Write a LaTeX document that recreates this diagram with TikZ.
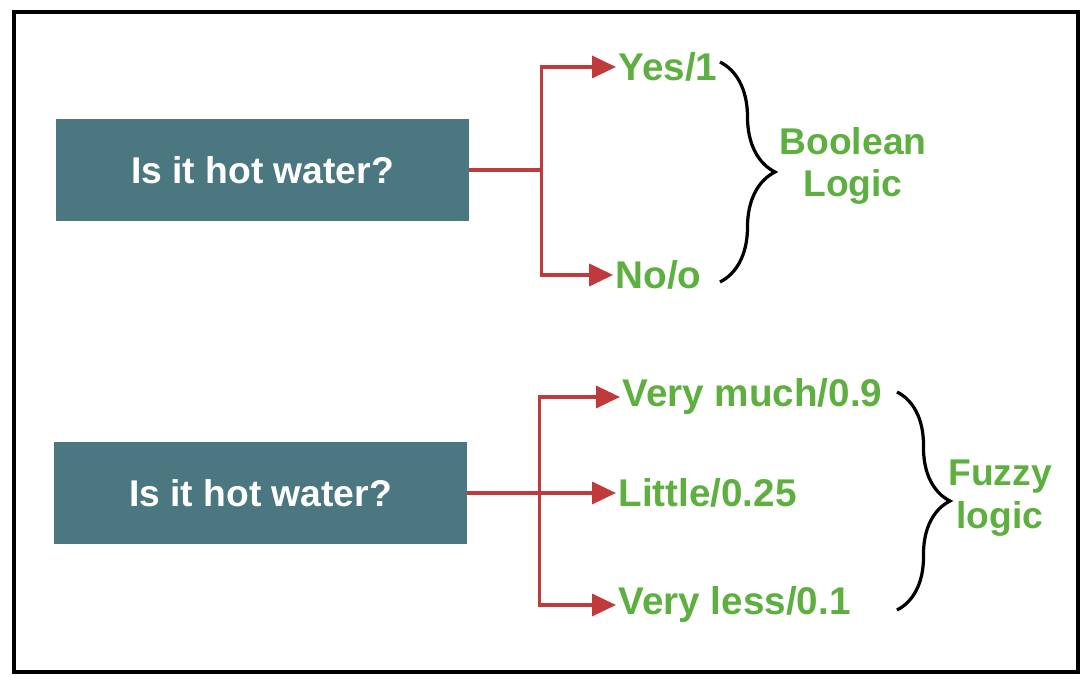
\documentclass[tikz,border=0pt]{standalone}
\usepackage{fontspec}
\setmainfont{Liberation Sans}
\usetikzlibrary{positioning,arrows.meta,decorations.pathreplacing}
\definecolor{boxteal}{HTML}{4A7780}
\definecolor{leafgreen}{HTML}{5DB03F}
\definecolor{linkred}{HTML}{C03A3B}
\tikzset{
    question/.style={rectangle, fill=boxteal, text=white, minimum width=10.325cm, minimum height=2.55cm, font=\fontsize{26.5}{30}\selectfont\bfseries},
    answer/.style={anchor=west, inner sep=1.5pt, text=leafgreen, font=\fontsize{27.5}{30}\selectfont\bfseries},
    kind/.style={align=center, text=leafgreen, font=\fontsize{26.5}{30.5}\selectfont\bfseries},
    link/.style={linkred, line width=2.5pt},
    arrowlink/.style={link, -{Triangle[length=0.6cm,width=0.55cm]}},
    curly/.style={line width=2.3pt, decorate, decoration={brace, amplitude=#1}}
}
\begin{document}
\begin{tikzpicture}
    \useasboundingbox (0, 0) rectangle (27.3, 17.15);
    \draw[line width=2.4pt] (0.35, 0.35) rectangle (26.95, 16.85);
    % boolean case
    \node[question] (q1) at (6.5625, 12.9) {Is it hot water?};
    \coordinate[right=1.8cm of q1] (j1);
    \node[answer] (yes) at (15.4, 15.475) {Yes/1};
    \node[answer] (no) at (15.33, 10.275) {No/o};
    \draw[link] (q1) -- (j1);
    \draw[arrowlink] (j1) |- (yes);
    \draw[arrowlink] (j1) |- (no);
    \coordinate (b1top) at (18.0, 15.6);
    \coordinate (b1bot) at (18.0, 10.1);
    \draw[curly=1.375cm] (b1top) -- (b1bot);
    \node[kind] (bool) at (21.325, 13.0) {Boolean\\Logic};
    % fuzzy case
    \node[question] (q2) at (6.5125, 4.825) {Is it hot water?};
    \coordinate[right=1.8cm of q2] (j2);
    \node[answer] (much) at (15.5, 7.225) {Very much/0.9};
    \node[answer] (little) at (15.4, 4.825) {Little/0.25};
    \node[answer] (less) at (15.4, 2.025) {Very less/0.1};
    \draw[arrowlink] (q2) -- (little);
    \draw[arrowlink] (j2) |- (much);
    \draw[arrowlink] (j2) |- (less);
    \coordinate (b2top) at (22.425, 7.35);
    \coordinate (b2bot) at (22.425, 1.9);
    \draw[curly=1.325cm] (b2top) -- (b2bot);
    \node[kind] (fuzzy) at (25.0, 4.7) {Fuzzy\\logic};
\end{tikzpicture}
\end{document}
